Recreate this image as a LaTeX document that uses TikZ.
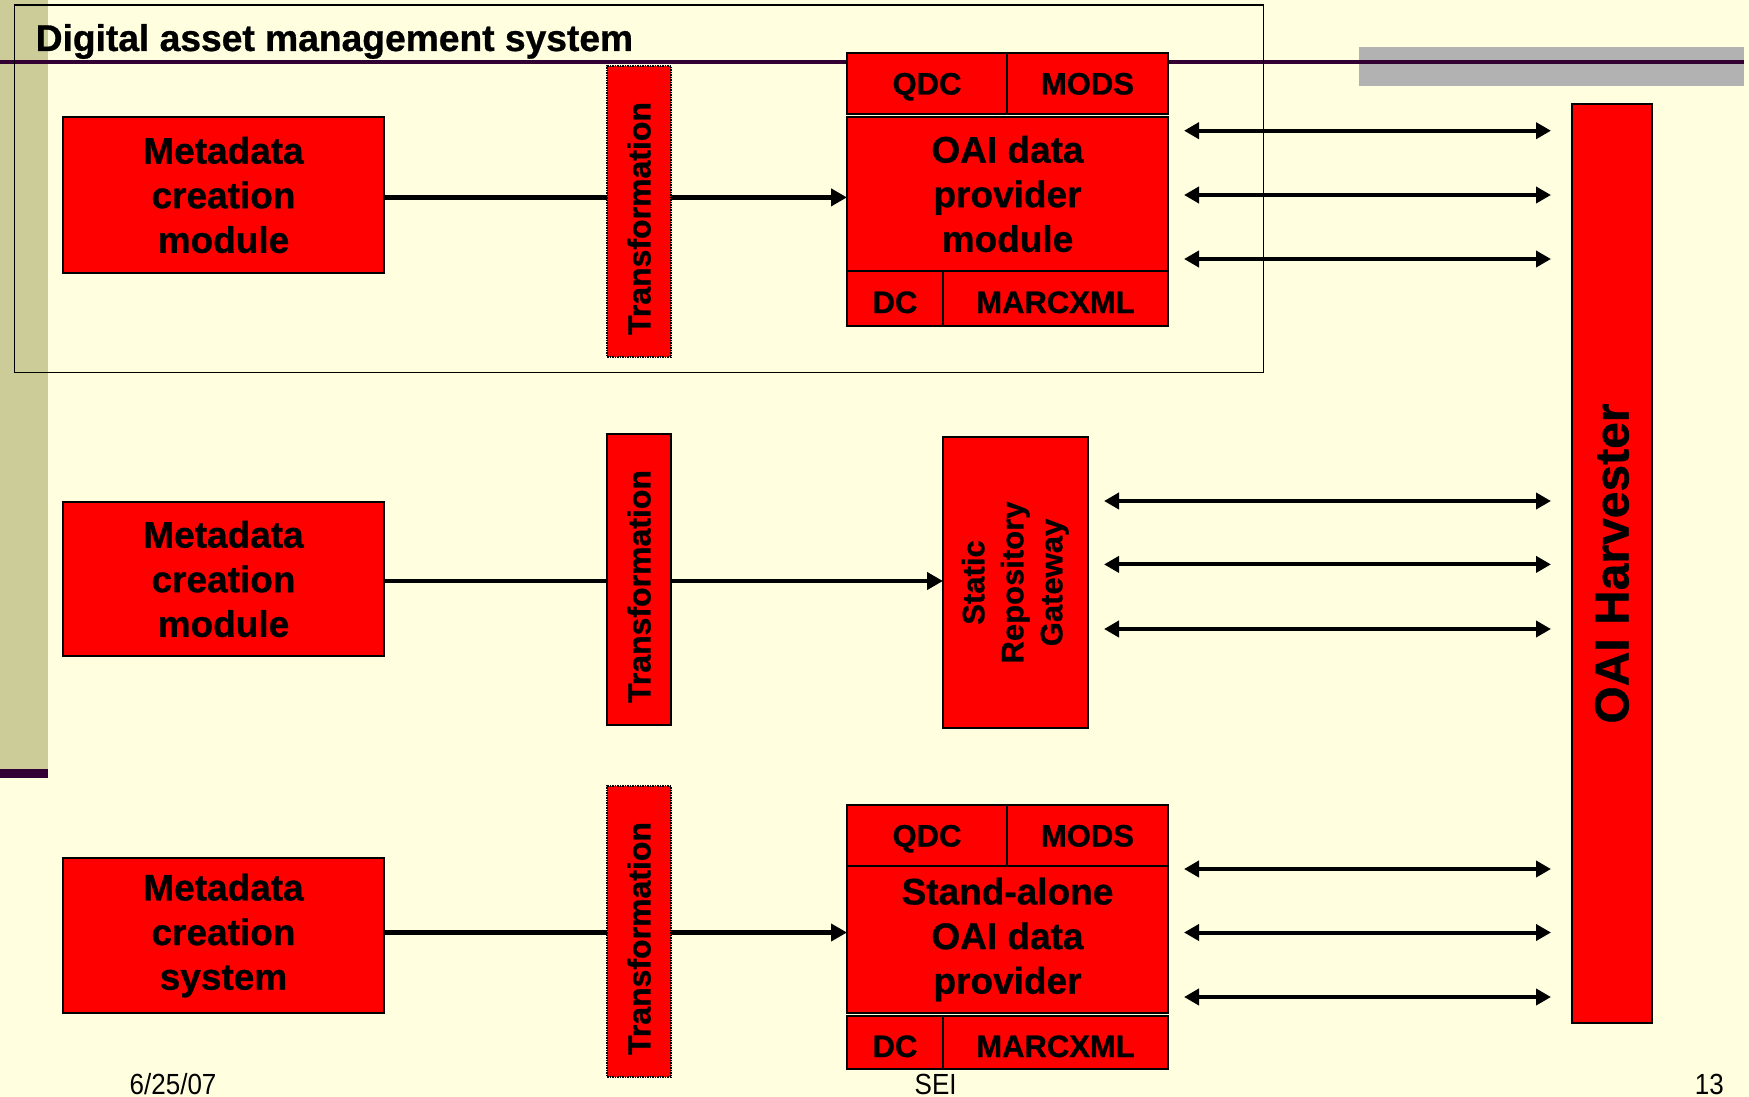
\documentclass[tikz,border=0pt]{standalone}
\usepackage{fontspec}
\usepackage{graphicx}
\setmainfont{Liberation Sans}[BoldFeatures={FakeBold=0.8}]
\usetikzlibrary{arrows.meta}
\definecolor{bgc}{RGB}{255,255,224}
\definecolor{olivec}{RGB}{204,204,153}
\definecolor{purpc}{RGB}{51,0,51}
\definecolor{grayc}{RGB}{178,178,178}
\begin{document}
\begin{tikzpicture}[x=1pt,y=-1pt,
 box/.style={draw=black, line width=1.5pt, fill=red, inner sep=0pt, outer sep=0pt, anchor=north west, align=center},
 big/.style={font=\bfseries\fontsize{37}{44.6}\selectfont},
 small/.style={font=\bfseries\fontsize{31}{39}\selectfont},
 cellA/.style={small, text height=22pt, text depth=0pt},
 cellB/.style={small, text height=29pt, text depth=0pt},
 trbox/.style={box, minimum width=64pt, minimum height=291pt, font=\bfseries\fontsize{32}{39}\selectfont},
 dotb/.style={densely dotted},
 flow/.style={line width=4.5pt, -{Triangle[length=16pt,width=17pt]}},
 plainline/.style={line width=4.5pt},
 dbl/.style={line width=4pt, {Triangle[length=15pt,width=16pt]}-{Triangle[length=15pt,width=16pt]}},
 foot/.style={anchor=base west, inner sep=0pt, font=\fontsize{26}{30}\selectfont},
]
\useasboundingbox (0,0) rectangle (1749,1097);
\fill[bgc] (0,0) rectangle (1749,1097);
\fill[olivec] (0,0) rectangle (47.5,769);
\fill[purpc] (0,769) rectangle (47.5,778);
\fill[grayc] (1359,47) rectangle (1744,86);
\fill[purpc] (0,60.5) rectangle (1744,64.5);

\node[draw=black, line width=1.5pt, minimum width=1249pt, minimum height=367.5pt, anchor=north west, inner sep=0pt, outer sep=0pt] (dams) at (14.5,5) {};
\node[anchor=base west, inner sep=0pt, font=\bfseries\fontsize{37.2}{44}\selectfont] (title) at (35.5,51) {Digital asset management system};

% metadata boxes
\node[box,big,minimum width=321pt,minimum height=156pt] (meta1) at (63,117) {Metadata\\creation\\module};
\node[box,big,minimum width=321pt,minimum height=154pt] (meta2) at (63,502) {Metadata\\creation\\module};
\node[box,big,minimum width=321pt,minimum height=155pt] (meta3) at (63,858) {Metadata\\creation\\system};

% transformation boxes
\node[trbox,dotb] (tr1) at (607,66) {\rotatebox{90}{Transformation\hspace*{14pt}}};
\node[trbox] (tr2) at (607,434) {\rotatebox{90}{Transformation\hspace*{14pt}}};
\node[trbox,dotb] (tr3) at (607,786) {\rotatebox{90}{Transformation\hspace*{14pt}}};

% OAI data provider module
\node[box,cellA,minimum width=160pt,minimum height=61pt] (qdc1) at (847,53) {QDC};
\node[box,cellA,minimum width=161pt,minimum height=61pt] (mods1) at (1007,53) {MODS};
\node[box,big,minimum width=321pt,minimum height=154pt] (oai1) at (847,117) {OAI data\\provider\\module};
\node[box,cellB,minimum width=96pt,minimum height=55pt] (dc1) at (847,271) {DC};
\node[box,cellB,minimum width=225pt,minimum height=55pt] (marc1) at (943,271) {MARCXML};

% static repository gateway
\node[box,small,minimum width=145pt,minimum height=291pt] (srg) at (943,437) {\rotatebox{90}{\begin{tabular}{@{}c@{}}Static\\Repository\\Gateway\end{tabular}}};

% stand-alone
\node[box,cellA,minimum width=160pt,minimum height=61pt] (qdc3) at (847,805) {QDC};
\node[box,cellA,minimum width=161pt,minimum height=61pt] (mods3) at (1007,805) {MODS};
\node[box,big,minimum width=321pt,minimum height=147pt] (oai3) at (847,866) {Stand-alone\\OAI data\\provider};
\node[box,cellB,minimum width=96pt,minimum height=53pt] (dc3) at (847,1016) {DC};
\node[box,cellB,minimum width=225pt,minimum height=53pt] (marc3) at (943,1016) {MARCXML};

% harvester
\node[box,minimum width=80pt,minimum height=919pt,font=\bfseries\fontsize{48}{58}\selectfont] (harv) at (1572,104) {\rotatebox{90}{OAI Harvester}};

% flow arrows
\coordinate (f1) at ([yshift=-2.4pt]meta1.east);
\coordinate (f2) at ([yshift=-2pt]meta2.east);
\coordinate (f3) at ([yshift=3pt]meta3.east);
\draw[plainline] (f1) -- (f1 -| tr1.west);
\draw[flow] (f1 -| tr1.east) -- (f1 -| oai1.west);
\draw[plainline] (f2) -- (f2 -| tr2.west);
\draw[flow] (f2 -| tr2.east) -- (f2 -| srg.west);
\draw[plainline] (f3) -- (f3 -| tr3.west);
\draw[flow] (f3 -| tr3.east) -- (f3 -| oai3.west);

% double arrows
\foreach \y [count=\i] in {130.7,195,259} {
  \coordinate (tl\i) at (1184,\y);
  \coordinate (tr\i) at (1551,\y);
  \draw[dbl] (tl\i) -- (tr\i);
}
\foreach \y [count=\i] in {501,564.4,629} {
  \coordinate (ml\i) at (1104,\y);
  \coordinate (mr\i) at (1551,\y);
  \draw[dbl] (ml\i) -- (mr\i);
}
\foreach \y [count=\i] in {869,932.5,997} {
  \coordinate (bl\i) at (1184,\y);
  \coordinate (br\i) at (1551,\y);
  \draw[dbl] (bl\i) -- (br\i);
}

% footer
\node[foot] (date) at (129.5,1094) {\scalebox{1}[1.12]{6/25/07}};
\node[foot] (sei) at (914.5,1094) {\scalebox{1}[1.12]{SEI}};
\node[foot,anchor=base east] (pg) at (1724,1094) {\scalebox{1}[1.12]{13}};
\end{tikzpicture}
\end{document}
